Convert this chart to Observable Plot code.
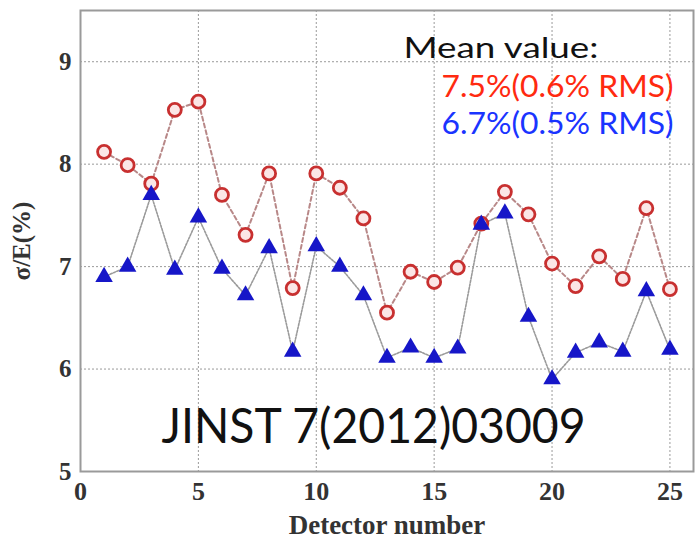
<!DOCTYPE html>
<html>
<head>
<meta charset="utf-8">
<script src="https://cdn.jsdelivr.net/npm/d3@7"></script>
<script src="https://cdn.jsdelivr.net/npm/@observablehq/plot@0.6"></script>
<style>
  html, body { margin: 0; padding: 0; background: #fff; }
  #chart svg { display: block; }
</style>
</head>
<body>
<div id="chart"></div>
<script>
// Energy resolution sigma/E (%) per detector, two measurement sets
const detectors = [1, 2, 3, 4, 5, 6, 7, 8, 9, 10, 11, 12, 13, 14, 15, 16, 17, 18, 19, 20, 21, 22, 23, 24, 25];
const resolutionRed = [8.12, 7.99, 7.81, 8.53, 8.61, 7.70, 7.31, 7.91, 6.79, 7.91, 7.77, 7.47, 6.55,
                       6.95, 6.85, 6.99, 7.42, 7.73, 7.51, 7.03, 6.81, 7.10, 6.88, 7.57, 6.78];
const resolutionBlue = [6.90, 7.00, 7.70, 6.97, 7.48, 6.98, 6.72, 7.18, 6.17, 7.20, 7.00, 6.72, 6.11,
                        6.21, 6.11, 6.20, 7.41, 7.52, 6.51, 5.90, 6.16, 6.26, 6.17, 6.76, 6.19];
const xTicks = [0, 5, 10, 15, 20, 25];
const yTicks = [5, 6, 7, 8, 9];
const meanTitle = "Mean value:";
const meanRed = "7.5%(0.6% RMS)";
const meanBlue = "6.7%(0.5% RMS)";
const reference = "JINST 7(2012)03009";

const rows = detectors.map((d, i) => ({detector: d, red: resolutionRed[i], blue: resolutionBlue[i]}));

const serif = "'Liberation Serif', 'DejaVu Serif', serif";
const sans = "Lato, 'Noto Sans', sans-serif";

const chart = Plot.plot({
  width: 695,
  height: 541,
  marginLeft: 80,
  marginRight: 2,
  marginTop: 10,
  marginBottom: 70,
  style: {background: "#fff", overflow: "visible"},
  x: {domain: [0, 26]},
  y: {domain: [5, 9.5]},
  marks: [
    Plot.gridX(xTicks, {stroke: "#9a9a9a", strokeOpacity: 1, strokeDasharray: "2,2"}),
    Plot.gridY(yTicks, {stroke: "#9a9a9a", strokeOpacity: 1, strokeDasharray: "2,2"}),
    Plot.frame({stroke: "#9a9a9a", strokeWidth: 2}),
    Plot.axisX(xTicks, {tickSize: 0, tickPadding: 10, fontSize: 26, fontWeight: "bold",
      fontFamily: serif, fill: "#333", label: null, tickFormat: d => String(d)}),
    Plot.axisY(yTicks, {tickSize: 0, tickPadding: 9, fontSize: 25, fontWeight: "bold",
      fontFamily: serif, fill: "#333", label: null, tickFormat: d => String(d)}),
    Plot.text(["Detector number"], {frameAnchor: "bottom", dy: 62, fontSize: 27, fontWeight: "bold",
      fontFamily: serif, fill: "#333"}),
    Plot.text(["σ/E(%)"], {frameAnchor: "left", textAnchor: "middle", dx: -59, dy: 0, rotate: -90,
      fontSize: 25, fontWeight: "bold", fontFamily: serif, fill: "#333"}),
    Plot.line(rows, {x: "detector", y: "red", stroke: "#b88888", strokeWidth: 2, strokeDasharray: "4,3"}),
    Plot.line(rows, {x: "detector", y: "blue", stroke: "#9a9a9a", strokeWidth: 1.6, strokeDasharray: "2,1.5"}),
    Plot.dot(rows, {x: "detector", y: "red", r: 6.5, stroke: "#c83030", strokeWidth: 2.8, fill: "#fbe6e6"}),
    Plot.dot(rows, {x: "detector", y: "blue", symbol: "triangle", r: 6.5, fill: "#1616c8", stroke: "none"}),
    Plot.text([meanTitle], {frameAnchor: "top-left", dx: 323, dy: 28, textAnchor: "start",
      fontSize: 28, fontFamily: sans, fill: "#111", className: "note-title"}),
    Plot.text([meanRed], {frameAnchor: "top-right", dx: -20, dy: 65, textAnchor: "end",
      fontSize: 30, fontFamily: sans, fill: "#ff2a10", className: "note-values"}),
    Plot.text([meanBlue], {frameAnchor: "top-right", dx: -20, dy: 102, textAnchor: "end",
      fontSize: 30, fontFamily: sans, fill: "#1a34ff", className: "note-values"}),
    Plot.text([reference], {frameAnchor: "top-left", dx: 293, dy: 398, textAnchor: "middle",
      fontSize: 48, fontFamily: sans, fill: "#111", className: "note-ref"})
  ]
});

// Stretch the annotation lines to their set widths
const spread = (cls, len) =>
  d3.select(chart).selectAll(`g.${cls} text`).attr("textLength", len).attr("lengthAdjust", "spacingAndGlyphs");
spread("note-title", 195);
spread("note-values", 232);
spread("note-ref", 424);

document.getElementById("chart").appendChild(chart);
</script>
</body>
</html>
